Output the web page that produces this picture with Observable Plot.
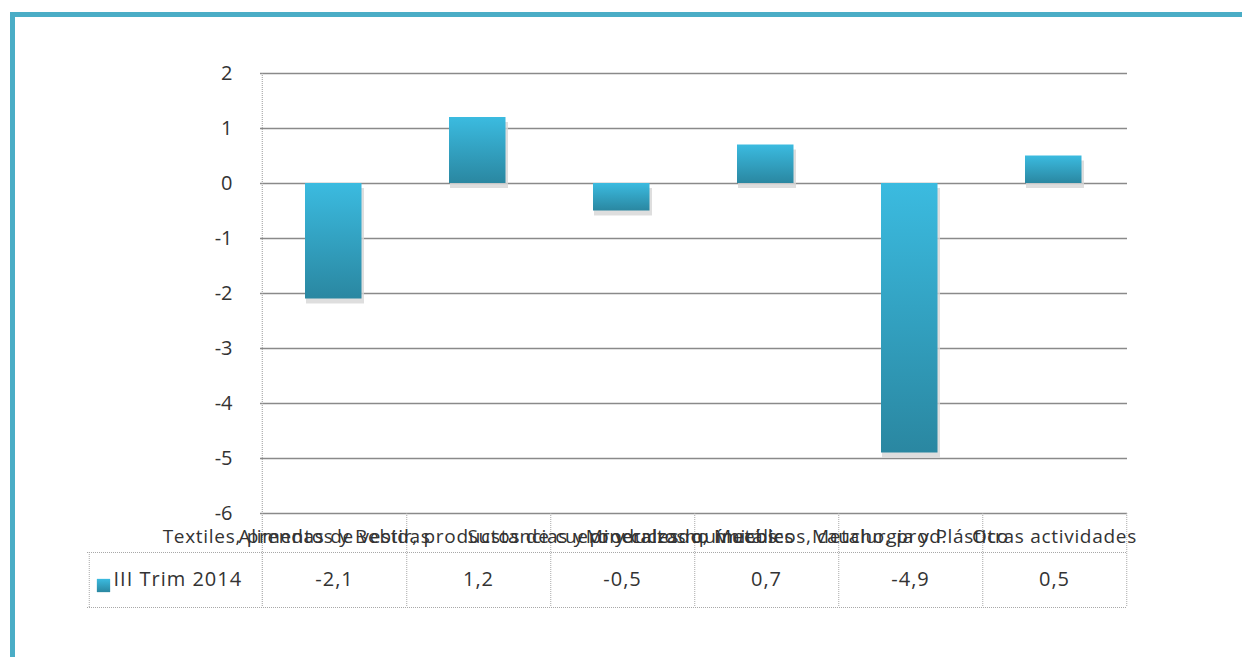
<!DOCTYPE html>
<html><head><meta charset="utf-8">
<script src="https://cdn.jsdelivr.net/npm/d3@7"></script>
<script src="https://cdn.jsdelivr.net/npm/@observablehq/plot@0.6"></script>
<style>
body{margin:0;background:#fff;}
#wrap{position:relative;width:1242px;height:657px;overflow:hidden;}
#frame{position:absolute;left:10px;top:12px;width:1300px;height:700px;border-left:5px solid #4aadc6;border-top:5px solid #4aadc6;box-sizing:border-box;}
#chart{position:absolute;left:0;top:0;}
.spaced text{letter-spacing:0.7px;}
.vals text{letter-spacing:1px;}
</style></head><body>
<div id="wrap"><div id="frame"></div><div id="chart"></div></div>
<script>
const categories = [
  "Alimentos y Bebidas",
  "Textiles, prendas de vestir, productos de cuero y calzado, Muebles",
  "Sustancias y productos químicos",
  "Minerales no metálicos, caucho, prod.",
  "Metalurgia y Plástico",
  "Otras actividades"
];
const values = [-2.1, 1.2, -0.5, 0.7, -4.9, 0.5];
const seriesName = "III Trim 2014";
const yTicks = [2, 1, 0, -1, -2, -3, -4, -5, -6];

const rows = categories.map((c, i) => ({cat: c, value: values[i], label: values[i].toFixed(1).replace(".", ",")}));
const half = 867 / categories.length / 2;

const defs = () => {
  const g = document.createElementNS("http://www.w3.org/2000/svg", "defs");
  g.innerHTML = `<linearGradient id="barGrad" x1="0" y1="0" x2="0" y2="1">
    <stop offset="0" stop-color="#3bbbe0"/><stop offset="1" stop-color="#2a87a1"/></linearGradient>`;
  return g;
};

const chart = Plot.plot({
  width: 1242, height: 657,
  marginTop: 73, marginBottom: 144, marginLeft: 260, marginRight: 115,
  x: {type: "band", domain: categories, padding: 0, axis: null},
  y: {domain: [-6, 2], axis: null},
  style: {fontFamily: "'Open Sans', sans-serif", fontSize: "19px", color: "#333", background: "transparent"},
  marks: [
    defs,
    Plot.ruleY(yTicks, {stroke: "#8a8a8a", strokeWidth: 1.3}),
    Plot.ruleX([categories[0]], {dx: -half, stroke: "#9a9a9a", strokeDasharray: "1,1", insetBottom: -94}),
    Plot.ruleX(categories, {dx: half, stroke: "#a8a8a8", strokeDasharray: "1,1", insetTop: 440, insetBottom: -94}),
    Plot.ruleX([categories[0]], {dx: -half - 173, stroke: "#a8a8a8", strokeDasharray: "1,1", insetTop: 479, insetBottom: -94}),
    Plot.ruleY([-6], {dy: 39, stroke: "#a8a8a8", strokeDasharray: "1,1", insetLeft: -173}),
    Plot.ruleY([-6], {dy: 94, stroke: "#a8a8a8", strokeDasharray: "1,1", insetLeft: -173}),
    Plot.barY(rows, {x: "cat", y: "value", fill: "#d6d6d6", fillOpacity: 0.8, insetLeft: 43, insetRight: 43, dx: 1, dy: 5}),
    Plot.barY(rows, {x: "cat", y: "value", fill: "url(#barGrad)", insetLeft: 43, insetRight: 44.5}),
    Plot.text(yTicks, {y: d => d, text: d => String(d), frameAnchor: "left", dx: -28, textAnchor: "end", fill: "#333", fontSize: 20}),
    Plot.text(rows, {x: "cat", text: "cat", frameAnchor: "bottom", dy: 29, fill: "#333", fontSize: 19, className: "spaced"}),
    Plot.text(rows, {x: "cat", text: "label", frameAnchor: "bottom", dy: 72, fill: "#333", fontSize: 20, className: "vals"}),
    Plot.dot([seriesName], {frameAnchor: "bottom-left", dx: -157, dy: 72, symbol: "square", r: 7.5, fill: "url(#barGrad)"}),
    Plot.text([seriesName], {text: d => d, frameAnchor: "bottom-left", dx: -147, dy: 72, textAnchor: "start", fill: "#333", fontSize: 20, className: "vals"})
  ]
});
document.getElementById("chart").append(chart);
</script>
</body></html>
